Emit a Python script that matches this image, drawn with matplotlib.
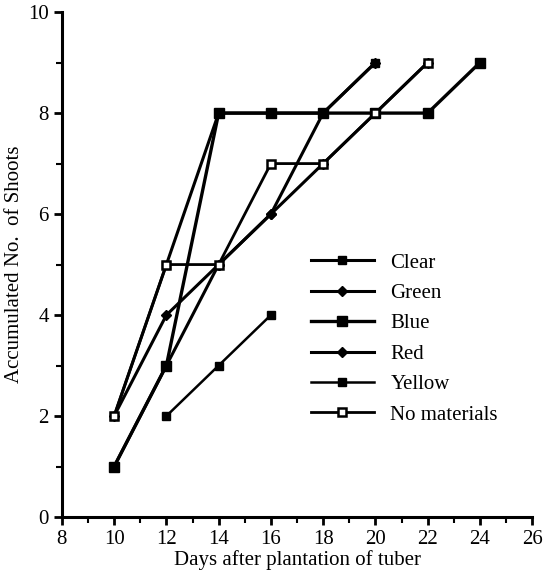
import matplotlib
matplotlib.use('Agg')
import matplotlib.pyplot as plt
from matplotlib.ticker import MultipleLocator

plt.rcParams['font.family'] = ['Liberation Serif', 'DejaVu Serif']

# days after plantation and accumulated shoots per covering material
clear_x = [10, 12, 14, 16, 18, 20]
clear_y = [2, 5, 8, 8, 8, 9]
green_x = [10, 12, 14, 16, 18, 20]
green_y = [1, 3, 5, 6, 8, 9]
blue_x = [10, 12, 14, 16, 18, 20, 22, 24]
blue_y = [1, 3, 8, 8, 8, 8, 8, 9]
red_x = [10, 12, 14, 16, 18, 20, 22]
red_y = [2, 4, 5, 6, 7, 8, 9]
yellow_x = [12, 14, 16]
yellow_y = [2, 3, 4]
none_x = [10, 12, 14, 16, 18, 20, 22]
none_y = [2, 5, 5, 7, 7, 8, 9]

fig = plt.figure(figsize=(5.43, 5.77), dpi=100)
ax = fig.add_axes([0.114, 0.104, 0.866, 0.875])

ax.plot(red_x, red_y, color='black', lw=2.2, marker='D', ms=5, label='Red')
ax.plot(blue_x, blue_y, color='black', lw=2.4, marker='s', ms=7, label='Blue')
ax.plot(green_x, green_y, color='black', lw=2.2, marker='D', ms=5.5, label='Green')
ax.plot(clear_x, clear_y, color='black', lw=2.2, marker='s', ms=6, label='Clear')
ax.plot(yellow_x, yellow_y, color='black', lw=1.8, marker='s', ms=6, label='Yellow')
ax.plot(none_x, none_y, color='black', lw=2.0, marker='s', ms=6,
        markerfacecolor='white', markeredgewidth=1.8, label='No materials')

ax.set_xlim(8, 26)
ax.set_ylim(0, 10)
ax.xaxis.set_major_locator(MultipleLocator(2))
ax.xaxis.set_minor_locator(MultipleLocator(1))
ax.yaxis.set_major_locator(MultipleLocator(2))
ax.yaxis.set_minor_locator(MultipleLocator(1))
ax.tick_params(which='major', direction='out', length=6, width=2, labelsize=15)
ax.tick_params(which='minor', direction='out', length=4, width=1.5)
ax.spines['top'].set_visible(False)
ax.spines['right'].set_visible(False)
ax.spines['left'].set_linewidth(2.2)
ax.spines['bottom'].set_linewidth(2.2)

ax.set_xlabel('Days after plantation of tuber', fontsize=15, labelpad=1)
ax.set_ylabel('Accumulated No.  of Shoots', fontsize=15, labelpad=3)

handles, labels = ax.get_legend_handles_labels()
order = ['Clear', 'Green', 'Blue', 'Red', 'Yellow', 'No materials']
hmap = dict(zip(labels, handles))
ax.legend([hmap[k] for k in order], order, loc='upper left',
          bbox_to_anchor=(0.49, 0.56), frameon=False, fontsize=15,
          handlelength=3.0, labelspacing=0.52, handletextpad=0.8)

fig.savefig('out.png', dpi=100)
